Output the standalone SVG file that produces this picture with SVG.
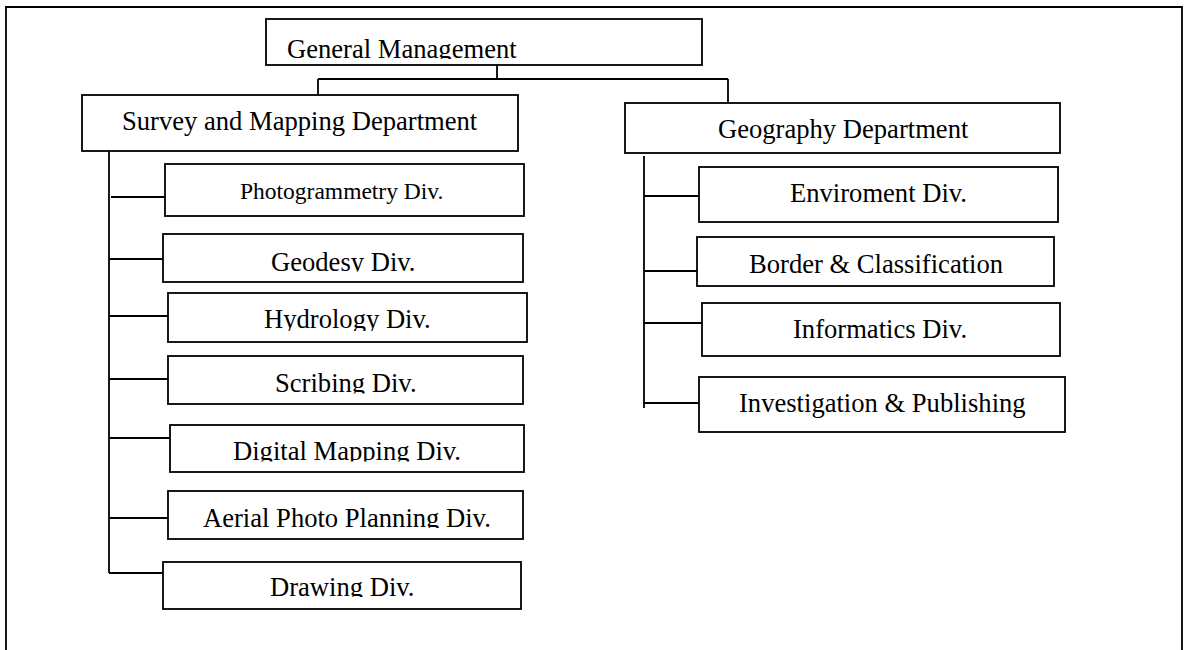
<svg xmlns="http://www.w3.org/2000/svg" width="1188" height="650" viewBox="0 0 1188 650">
<style>
.box{fill:#fff;stroke:#000;stroke-width:1.8}
.ln{fill:none;stroke:#000;stroke-width:1.8}
.t{font-family:"Liberation Serif","Times New Roman",serif;font-size:26.6px;fill:#000}
.s{font-size:23.5px}
</style>
<defs>
<clipPath id="cGM"><rect x="266" y="19" width="436" height="40"/></clipPath>
<clipPath id="cGeo"><rect x="163" y="234" width="360" height="37.5"/></clipPath>
<clipPath id="cHyd"><rect x="168" y="293" width="359" height="38"/></clipPath>
<clipPath id="cScr"><rect x="168" y="356" width="355" height="37.5"/></clipPath>
<clipPath id="cDig"><rect x="170" y="425" width="354" height="36.5"/></clipPath>
<clipPath id="cAer"><rect x="168" y="491" width="355" height="37"/></clipPath>
<clipPath id="cDra"><rect x="163" y="562" width="358" height="35"/></clipPath>
</defs>
<rect width="1188" height="650" fill="#fff"/>
<path class="ln" d="M6,652 V7 H1182 V652"/>
<g id="connectors">
<path class="ln" d="M497,65 V79 M318,79 H728 M318,79 V95 M728,79 V103"/>
<path class="ln" d="M109,151 V573 M111,197 H165 M109,259 H163 M109,316 H168 M109,379 H168 M109,438 H170 M109,518 H168 M109,573 H163"/>
<path class="ln" d="M644,156 V408 M644,196 H702 M644,271 H697 M644,323 H704 M644,403 H699"/>
</g>
<g id="general-management"><rect class="box" x="266" y="19" width="436" height="46"/><text class="t" x="287" y="57.5" clip-path="url(#cGM)">General Management</text></g>
<g id="survey-mapping"><rect class="box" x="82" y="95" width="436" height="56"/><text class="t" x="122" y="130">Survey and Mapping Department</text></g>
<g id="geography"><rect class="box" x="625" y="103" width="435" height="50"/><text class="t" x="718" y="137.5">Geography Department</text></g>
<g id="photogrammetry"><rect class="box" x="165" y="164" width="359" height="52"/><text class="t s" x="240" y="199">Photogrammetry Div.</text></g>
<g id="geodesy"><rect class="box" x="163" y="234" width="360" height="48"/><text class="t" x="271" y="270.5" clip-path="url(#cGeo)">Geodesy Div.</text></g>
<g id="hydrology"><rect class="box" x="168" y="293" width="359" height="49"/><text class="t" x="264" y="328" clip-path="url(#cHyd)">Hydrology Div.</text></g>
<g id="scribing"><rect class="box" x="168" y="356" width="355" height="48"/><text class="t" x="275" y="391.5" clip-path="url(#cScr)">Scribing Div.</text></g>
<g id="digital-mapping"><rect class="box" x="170" y="425" width="354" height="47"/><text class="t" x="233" y="460" clip-path="url(#cDig)">Digital Mapping Div.</text></g>
<g id="aerial-photo"><rect class="box" x="168" y="491" width="355" height="48"/><text class="t" x="203" y="526.5" clip-path="url(#cAer)">Aerial Photo Planning Div.</text></g>
<g id="drawing"><rect class="box" x="163" y="562" width="358" height="47"/><text class="t" x="270" y="596" clip-path="url(#cDra)">Drawing Div.</text></g>
<g id="enviroment"><rect class="box" x="699" y="167" width="359" height="55"/><text class="t" x="790" y="201.5">Enviroment Div.</text></g>
<g id="border"><rect class="box" x="697" y="237" width="357" height="49"/><text class="t" x="749" y="273">Border &amp; Classification</text></g>
<g id="informatics"><rect class="box" x="702" y="303" width="358" height="53"/><text class="t" x="793" y="338">Informatics Div.</text></g>
<g id="investigation"><rect class="box" x="699" y="377" width="366" height="55"/><text class="t" x="739" y="412">Investigation &amp; Publishing</text></g>
</svg>
